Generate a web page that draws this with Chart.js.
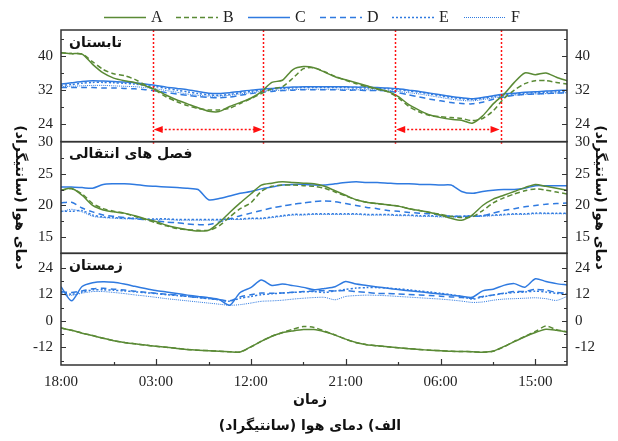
<!DOCTYPE html>
<html>
<head>
<meta charset="utf-8">
<script src="https://cdn.jsdelivr.net/npm/chart.js@4.4.0/dist/chart.umd.min.js"></script>
<style>
  html, body { margin: 0; padding: 0; background: #fff; }
  #wrap { width: 618px; height: 441px; }
</style>
</head>
<body>
<div id="wrap"><canvas id="chart" width="618" height="441"></canvas></div>
<script>
// hours counted from 18:00 of the first day
const hours = [0,1,2,3,4,5,6,7,8,9,10,11,12,13,14,15,16,17,18,19,20,21,22,23,24,
  25,26,27,28,29,30,31,32,33,34,35,36,37,38,39,40,41,42,43,44,45,46,47,48];
const timeTicks = [0, 9, 18, 27, 36, 45];
const timeLabels = ['18:00', '03:00', '12:00', '21:00', '06:00', '15:00'];
const minorTimeTicks = [5, 14, 23, 32, 41];

const seriesNames = ['A', 'B', 'C', 'D', 'E', 'F'];
const panelNames = ['تابستان', 'فصل های انتقالی', 'زمستان'];

// summer
const sumA = [40.7,40.5,40.4,38.0,36.0,34.8,34.2,33.8,33.0,32.1,30.8,29.7,28.8,27.9,27.1,27.0,28.2,29.1,30.1,31.6,33.8,34.3,36.8,37.5,37.2,36.2,35.1,34.4,33.7,33.0,32.3,31.7,30.5,28.6,27.3,26.2,25.6,25.2,25.0,24.3,26.0,28.8,31.0,33.8,36.0,35.6,36.0,35.0,34.2];
const sumB = [40.7,40.5,40.4,38.6,36.8,35.8,35.4,34.5,33.2,31.9,30.4,29.3,28.4,27.7,27.4,27.4,27.8,28.9,30.0,31.2,32.3,32.8,34.8,37.0,37.2,36.3,35.2,34.3,33.5,32.8,32.2,31.6,30.2,28.2,26.9,26.1,25.8,25.6,25.4,24.9,25.4,27.2,30.0,32.0,33.5,34.2,34.2,33.8,33.4];
const sumC = [33.4,33.7,34.0,34.2,34.1,34.0,33.9,33.7,33.4,33.1,32.7,32.4,32.1,31.7,31.3,31.2,31.4,31.7,32.0,32.2,32.4,32.6,32.7,32.8,32.8,32.8,32.8,32.8,32.7,32.7,32.6,32.5,32.3,32.0,31.7,31.3,30.9,30.5,30.2,30.0,30.3,30.7,31.1,31.3,31.5,31.6,31.8,31.9,32.0];
const sumD = [32.6,32.6,32.6,32.6,32.5,32.5,32.4,32.3,32.1,31.8,31.4,31.1,30.8,30.5,30.3,30.2,30.4,30.8,31.2,31.5,31.7,31.9,32.0,32.1,32.1,32.1,32.1,32.0,32.0,31.9,31.9,31.8,31.4,30.9,30.4,29.9,29.5,29.1,28.9,28.8,29.2,29.9,30.4,30.8,31.0,31.1,31.2,31.3,31.4];
const sumE = [33.1,33.3,33.6,33.8,33.8,33.7,33.6,33.4,33.1,32.8,32.4,32.0,31.6,31.2,30.9,30.8,31.0,31.4,31.7,32.0,32.2,32.4,32.5,32.6,32.6,32.6,32.6,32.6,32.5,32.5,32.4,32.3,32.1,31.8,31.5,31.1,30.7,30.3,30.0,29.8,30.1,30.5,30.9,31.1,31.3,31.4,31.5,31.6,31.7];
const sumF = [32.8,32.9,33.0,33.1,33.1,33.0,32.9,32.8,32.6,32.3,31.9,31.5,31.1,30.8,30.6,30.6,30.8,31.1,31.4,31.7,31.9,32.0,32.1,32.2,32.2,32.2,32.2,32.2,32.1,32.1,32.0,31.9,31.7,31.4,31.1,30.7,30.3,29.9,29.6,29.5,29.8,30.2,30.6,30.8,31.0,31.1,31.2,31.3,31.4];

// transition seasons
const midA = [22.4,22.7,21.6,20.0,19.3,19.0,18.8,18.4,17.9,17.5,16.9,16.5,16.2,16.0,16.1,17.3,18.9,20.4,21.8,23.2,23.5,23.7,23.6,23.5,23.4,23.0,22.3,21.6,20.9,20.5,20.3,20.1,19.9,19.5,19.2,18.9,18.5,18.0,17.7,18.5,20.0,21.0,21.6,22.2,22.8,23.3,23.0,22.7,22.4];
const midB = [22.4,22.6,21.8,20.3,19.5,19.1,18.8,18.3,17.8,17.3,16.8,16.4,16.2,16.1,16.1,16.8,18.2,19.5,20.4,22.2,23.0,23.2,23.2,23.1,23.0,22.7,22.1,21.5,20.9,20.5,20.3,20.1,19.9,19.5,19.2,18.9,18.6,18.3,18.1,18.2,19.2,20.4,21.2,21.8,22.3,22.6,22.4,22.1,21.8];
const midC = [22.9,22.9,22.8,22.7,23.3,23.4,23.4,23.3,23.1,23.0,22.9,22.8,22.7,22.5,20.9,21.1,21.5,21.9,22.2,22.6,22.9,23.2,23.3,23.3,23.2,23.2,23.4,23.6,23.7,23.6,23.6,23.5,23.4,23.4,23.3,23.3,23.2,23.2,22.2,21.9,22.2,22.4,22.5,22.5,22.7,23.1,23.1,23.1,23.1];
const midD = [20.4,20.5,19.6,19.0,18.5,18.3,18.1,17.9,17.8,17.6,17.4,17.3,17.1,17.0,17.0,17.4,17.9,18.4,18.8,19.2,19.6,19.9,20.2,20.4,20.6,20.7,20.6,20.3,20.0,19.7,19.5,19.2,19.1,18.9,18.8,18.7,18.5,18.3,18.3,18.3,18.4,18.8,19.2,19.5,19.8,20.0,20.2,20.3,20.4];
const midE = [19.1,19.1,19.2,18.5,18.2,18.1,18.0,18.0,17.9,17.9,17.9,17.8,17.8,17.8,17.8,17.8,17.9,17.9,18.0,18.0,18.2,18.4,18.6,18.6,18.7,18.7,18.7,18.7,18.7,18.6,18.6,18.6,18.5,18.5,18.4,18.4,18.3,18.3,18.3,18.4,18.4,18.5,18.6,18.7,18.7,18.8,18.8,18.8,18.8];
const midF = [19.0,19.4,19.0,18.3,18.1,18.0,17.9,17.9,17.8,17.8,17.8,17.7,17.7,17.7,17.7,17.7,17.8,17.8,17.9,17.9,18.1,18.3,18.5,18.5,18.6,18.6,18.6,18.6,18.6,18.5,18.5,18.5,18.4,18.4,18.3,18.3,18.2,18.2,18.2,18.3,18.3,18.4,18.5,18.6,18.6,18.7,18.7,18.7,18.7];

// winter
const winA = [-3.3,-4.3,-5.6,-6.7,-7.9,-9.0,-9.8,-10.4,-11.0,-11.5,-12.0,-12.5,-13.0,-13.3,-13.5,-13.8,-14.0,-14.1,-11.8,-9.3,-7.0,-5.4,-4.6,-4.0,-4.0,-5.0,-6.5,-8.3,-9.8,-10.8,-11.3,-11.8,-12.2,-12.6,-13.0,-13.3,-13.5,-13.8,-13.9,-14.0,-14.2,-13.7,-11.7,-9.4,-7.2,-5.3,-3.8,-4.3,-5.1];
const winB = [-3.3,-4.3,-5.6,-6.7,-7.9,-9.0,-9.8,-10.4,-11.0,-11.5,-12.0,-12.5,-13.0,-13.3,-13.5,-13.8,-14.0,-14.1,-11.9,-9.2,-7.0,-5.3,-3.8,-2.6,-3.0,-4.7,-6.4,-8.3,-9.9,-10.8,-11.3,-11.8,-12.2,-12.6,-13.0,-13.3,-13.5,-13.8,-13.9,-14.0,-14.2,-13.8,-11.8,-9.3,-7.1,-4.8,-2.4,-4.0,-5.0];
const winC = [15.4,9.0,15.5,17.2,17.7,17.4,16.6,15.6,14.6,13.7,13.0,12.3,11.6,11.0,10.4,9.6,7.0,12.8,15.0,18.4,16.0,16.6,15.9,15.1,14.0,14.6,15.4,17.8,16.6,16.0,15.3,14.7,14.1,13.6,13.1,12.6,12.1,11.6,11.1,10.6,13.5,14.3,16.0,16.8,15.2,19.0,17.8,16.8,16.2];
const winD = [13.2,12.8,13.5,14.5,14.7,14.3,13.9,13.4,12.9,12.4,12.0,11.6,11.0,10.6,10.1,9.6,9.0,10.8,11.8,12.6,12.4,12.6,12.9,13.2,13.5,13.6,13.5,13.7,13.2,12.8,12.4,12.3,12.1,11.9,11.7,11.4,11.1,10.8,10.5,10.2,11.0,11.7,12.5,13.2,13.3,14.2,13.8,12.8,12.4];
const winE = [12.7,12.0,13.0,14.0,14.0,13.8,13.5,13.1,12.7,12.3,11.8,11.4,11.0,10.5,10.0,9.4,8.8,10.2,11.0,11.8,12.2,12.5,12.8,13.1,13.2,12.8,13.5,14.2,14.8,15.0,15.0,14.8,14.4,14.0,13.5,13.0,12.4,11.8,11.0,9.8,10.8,11.6,12.3,12.8,13.0,13.4,13.0,12.4,12.0];
const winF = [12.0,11.5,12.5,13.2,13.2,12.8,12.3,11.7,11.2,10.6,10.0,9.5,9.0,8.5,8.0,7.5,7.0,7.3,8.0,8.8,9.0,9.3,9.8,10.2,10.5,10.6,9.5,11.0,11.4,11.6,11.5,11.3,11.0,10.7,10.4,10.1,9.8,9.4,8.9,8.3,8.5,9.3,9.8,10.0,10.2,10.4,10.0,9.2,11.0];

// y ticks per panel
const sumTicks = [24, 32, 40];
const sumMinor = [28, 36, 44];
const midTicks = [15, 20, 25, 30];
const midMinor = [17.5, 22.5, 27.5];
const winTicks = [-12, 0, 12, 24];
const winMinor = [-18, -6, 6, 18];

// red markers in the summer panel (hours)
const redMarks = [8.7, 19.2, 31.7, 41.7];
const arrowLevel = 23;

const green = '#5a8a35';
const blue = '#2f7ae0';
const styles = {
  A: { color: green, width: 1.5, dash: [] },
  B: { color: green, width: 1.5, dash: [5, 3] },
  C: { color: blue, width: 1.5, dash: [] },
  D: { color: blue, width: 1.5, dash: [6, 4] },
  E: { color: blue, width: 1.5, dash: [2, 2] },
  F: { color: blue, width: 1, dash: [1, 1] }
};

const panels = [
  { axis: 'ySum', right: 'rSum', data: [sumA, sumB, sumC, sumD, sumE, sumF], ticks: sumTicks, minor: sumMinor, min: 20, max: 46 },
  { axis: 'yMid', right: 'rMid', data: [midA, midB, midC, midD, midE, midF], ticks: midTicks, minor: midMinor, min: 12.5, max: 30 },
  { axis: 'yWin', right: 'rWin', data: [winA, winB, winC, winD, winE, winF], ticks: winTicks, minor: winMinor, min: -20, max: 30.5 }
];

const datasets = [];
panels.forEach(p => {
  p.data.forEach((values, i) => {
    const st = styles[seriesNames[i]];
    datasets.push({
      label: seriesNames[i],
      data: values,
      yAxisID: p.axis,
      borderColor: st.color,
      borderWidth: st.width,
      borderDash: st.dash,
      pointRadius: 0,
      fill: false,
      tension: 0.25
    });
  });
});

const tickFont = { family: "'Liberation Serif', 'Times New Roman', serif", size: 15 };
const arabicFont = "bold 14px 'DejaVu Sans', sans-serif";

function yAxis(pos, p) {
  return {
    type: 'linear',
    position: pos,
    stack: pos,
    stackWeight: 1,
    min: p.min,
    max: p.max,
    afterBuildTicks: s => { s.ticks = p.ticks.map(v => ({ value: v })); },
    afterFit: s => { s.width = pos === 'left' ? 61 : 51; },
    grid: { display: false, drawTicks: false },
    border: { display: false },
    ticks: { font: tickFont, color: '#222', padding: 8 }
  };
}

const scales = {
  x: {
    type: 'linear',
    min: 0,
    max: 48,
    afterBuildTicks: s => { s.ticks = timeTicks.map(v => ({ value: v })); },
    afterFit: s => { s.height = 76; },
    grid: { display: false, drawTicks: false },
    border: { display: false },
    ticks: {
      font: tickFont, color: '#222', padding: 8, maxRotation: 0, autoSkip: false,
      callback: (v, i) => timeLabels[i]
    }
  }
};
// left stack is placed in reverse order, right stack in order
[...panels].reverse().forEach(p => { scales[p.axis] = yAxis('left', p); });
panels.forEach(p => { scales[p.right] = yAxis('right', p); });

const decor = {
  id: 'decor',
  afterDraw(chart) {
    const ctx = chart.ctx;
    const area = chart.chartArea;
    const x = chart.scales.x;

    // red markers
    const ys = chart.scales.ySum;
    ctx.save();
    ctx.strokeStyle = '#ff1010';
    ctx.fillStyle = '#ff1010';
    ctx.lineWidth = 1.5;
    ctx.setLineDash([2, 2]);
    redMarks.forEach(h => {
      const px = Math.round(x.getPixelForValue(h)) + 0.5;
      ctx.beginPath();
      ctx.moveTo(px, ys.top);
      ctx.lineTo(px, ys.bottom + 2);
      ctx.stroke();
    });
    const ay = Math.round(ys.getPixelForValue(arrowLevel)) + 0.5;
    for (let k = 0; k < redMarks.length; k += 2) {
      const x0 = x.getPixelForValue(redMarks[k]);
      const x1 = x.getPixelForValue(redMarks[k + 1]);
      ctx.setLineDash([2, 2]);
      ctx.beginPath();
      ctx.moveTo(x0 + 8, ay);
      ctx.lineTo(x1 - 8, ay);
      ctx.stroke();
      ctx.setLineDash([]);
      ctx.beginPath();
      ctx.moveTo(x0 + 1, ay); ctx.lineTo(x0 + 10, ay - 3.5); ctx.lineTo(x0 + 10, ay + 3.5); ctx.closePath();
      ctx.fill();
      ctx.beginPath();
      ctx.moveTo(x1 - 1, ay); ctx.lineTo(x1 - 10, ay - 3.5); ctx.lineTo(x1 - 10, ay + 3.5); ctx.closePath();
      ctx.fill();
    }
    ctx.restore();

    // frames and tick marks
    ctx.save();
    ctx.strokeStyle = '#333';
    ctx.lineWidth = 1.5;
    panels.forEach(p => {
      const s = chart.scales[p.axis];
      ctx.strokeRect(area.left, s.top, area.right - area.left, s.bottom - s.top);
      ctx.lineWidth = 1.2;
      const marks = p.ticks.map(v => [v, 5]).concat(p.minor.map(v => [v, 3]));
      marks.forEach(([v, len]) => {
        if (v <= p.min || v >= p.max) return;
        const py = Math.round(s.getPixelForValue(v)) + 0.5;
        ctx.beginPath();
        ctx.moveTo(area.left, py); ctx.lineTo(area.left + len, py);
        ctx.moveTo(area.right, py); ctx.lineTo(area.right - len, py);
        ctx.stroke();
      });
      ctx.lineWidth = 1.5;
    });
    ctx.lineWidth = 1.2;
    const xm = timeTicks.map(v => [v, 6]).concat(minorTimeTicks.map(v => [v, 3]));
    xm.forEach(([v, len]) => {
      if (v <= 0 || v >= 48) return;
      const px = Math.round(x.getPixelForValue(v)) + 0.5;
      ctx.beginPath();
      ctx.moveTo(px, area.bottom); ctx.lineTo(px, area.bottom - len);
      ctx.stroke();
    });
    ctx.restore();

    // texts
    ctx.save();
    ctx.fillStyle = '#111';
    ctx.font = arabicFont;
    ctx.direction = 'rtl';
    ctx.textBaseline = 'middle';
    ctx.textAlign = 'left';
    panels.forEach((p, i) => {
      const s = chart.scales[p.axis];
      ctx.fillText(panelNames[i], area.left + 8, s.top + 13);
    });
    ctx.textAlign = 'center';
    const cy = (area.top + area.bottom) / 2;
    [20, 600].forEach(tx => {
      ctx.save();
      ctx.translate(tx, cy);
      ctx.rotate(Math.PI / 2);
      ctx.fillText('دمای هوا (سانتیگراد)', 0, 0);
      ctx.restore();
    });
    const cx = (area.left + area.right) / 2;
    ctx.fillText('زمان', cx - 4, 400);
    ctx.font = "bold 14px 'DejaVu Sans', sans-serif";
    ctx.fillText('الف) دمای هوا (سانتیگراد)', cx - 4, 426);
    ctx.restore();

    // legend
    ctx.save();
    ctx.textBaseline = 'middle';
    ctx.textAlign = 'left';
    ctx.font = "16px 'Liberation Serif', 'Times New Roman', serif";
    seriesNames.forEach((name, i) => {
      const st = styles[name];
      const lx = 104 + i * 72;
      ctx.strokeStyle = st.color;
      ctx.lineWidth = st.width;
      ctx.setLineDash(st.dash);
      ctx.beginPath();
      ctx.moveTo(lx, 17.5); ctx.lineTo(lx + 42, 17.5);
      ctx.stroke();
      ctx.fillStyle = '#222';
      ctx.fillText(name, lx + 47, 18);
    });
    ctx.restore();
  }
};

new Chart(document.getElementById('chart'), {
  type: 'line',
  data: { labels: hours, datasets: datasets },
  options: {
    responsive: false,
    animation: false,
    devicePixelRatio: 1,
    layout: { padding: { top: 30, left: 0, right: 0, bottom: 0 } },
    plugins: { legend: { display: false }, tooltip: { enabled: false } },
    scales: scales
  },
  plugins: [decor]
});
</script>
</body>
</html>
